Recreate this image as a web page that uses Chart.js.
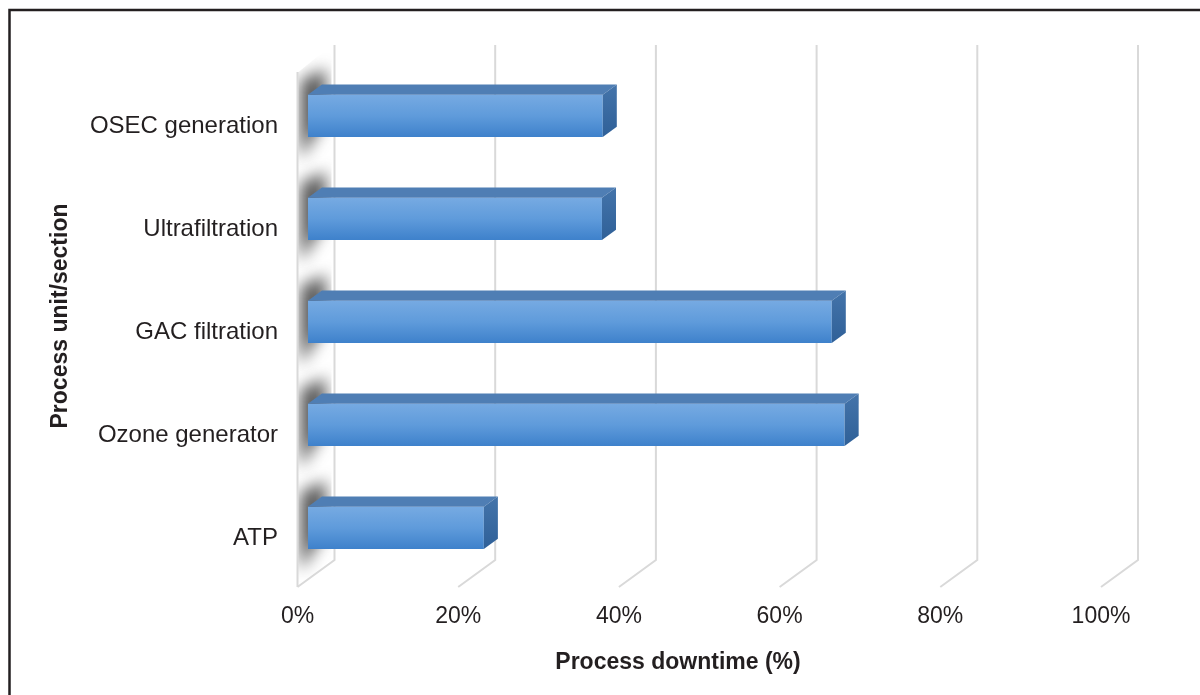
<!DOCTYPE html>
<html>
<head>
<meta charset="utf-8">
<title>Process downtime</title>
<script src="https://cdn.jsdelivr.net/npm/chart.js@4.4.1/dist/chart.umd.min.js"></script>
<style>
  html, body { margin: 0; padding: 0; background: #fff; }
  canvas { display: block; }
</style>
</head>
<body>
<canvas id="downtimeChart" width="1200" height="695"></canvas>
<script>
// data
const categories = ["OSEC generation", "Ultrafiltration", "GAC filtration", "Ozone generator", "ATP"];
const downtime = [0.367, 0.366, 0.652, 0.668, 0.219];
const tickValues = [0, 0.2, 0.4, 0.6, 0.8, 1.0];
const xTitle = "Process downtime (%)";
const yTitle = "Process unit/section";

const TEXT = "#231f20";
const FONT = "'Liberation Sans', Arial, sans-serif";

// depth of the box (front plane -> back wall) and where the bars sit inside it
const WALL_DX = 37, WALL_DY = -27;
const BAR_FRONT = 0.28, BAR_BACK = 0.66;
const BAR_PCT = 0.41;

function frontFill(c) {
  const ys = c.chart.scales.y;
  if (!ys || c.dataIndex === undefined) return "#5b97d8";
  const cy = ys.getPixelForValue(c.dataIndex);
  const half = (ys.getPixelForValue(1) - ys.getPixelForValue(0)) * BAR_PCT / 2;
  if (!isFinite(cy) || !isFinite(half) || half <= 0) return "#5b97d8";
  const g = c.chart.ctx.createLinearGradient(0, cy - half, 0, cy + half);
  g.addColorStop(0, "#76aae2");
  g.addColorStop(0.5, "#5f9bdb");
  g.addColorStop(1, "#3e81cb");
  return g;
}

const box3d = {
  id: "box3d",
  beforeDraw(chart) {
    const ctx = chart.ctx;
    ctx.save();
    ctx.strokeStyle = TEXT;
    ctx.lineWidth = 2.5;
    ctx.strokeRect(9.5, 10, 1400, 1000);
    ctx.restore();
  },
  beforeDatasetsDraw(chart) {
    const { ctx, chartArea: a, scales: { x } } = chart;
    const x0 = x.getPixelForValue(0);

    // back wall gridlines with their floor returns
    ctx.save();
    ctx.strokeStyle = "#d9d9d9";
    ctx.lineWidth = 2;
    ctx.beginPath();
    ctx.moveTo(x0, a.top);
    ctx.lineTo(x0, a.bottom);
    tickValues.forEach(v => {
      const fx = x.getPixelForValue(v);
      ctx.moveTo(fx + WALL_DX, a.top + WALL_DY);
      ctx.lineTo(fx + WALL_DX, a.bottom + WALL_DY);
      ctx.lineTo(fx, a.bottom);
    });
    ctx.stroke();

    // bar shadows on the side wall
    ctx.beginPath();
    ctx.moveTo(x0 + 1, a.top);
    ctx.lineTo(x0 + WALL_DX - 3, a.top + WALL_DY);
    ctx.lineTo(x0 + WALL_DX - 3, a.bottom + WALL_DY);
    ctx.lineTo(x0 + 1, a.bottom);
    ctx.closePath();
    ctx.clip();
    ctx.filter = "blur(8px)";
    ctx.fillStyle = "rgba(55,55,55,0.85)";
    const fy = BAR_FRONT * WALL_DY;
    chart.getDatasetMeta(0).data.forEach(el => {
      const p = el.getProps(["y", "height"], true);
      const T = p.y - p.height / 2 + fy, B = p.y + p.height / 2 + fy;
      ctx.beginPath();
      ctx.moveTo(x0 + 3, T - 14);
      ctx.lineTo(x0 + 28, T - 26);
      ctx.lineTo(x0 + 28, B - 18);
      ctx.lineTo(x0 + 3, B + 22);
      ctx.closePath();
      ctx.fill();
    });
    ctx.restore();

    // bars sit part way into the box
    ctx.save();
    ctx.translate(BAR_FRONT * WALL_DX, BAR_FRONT * WALL_DY);
  },
  afterDatasetsDraw(chart) {
    const ctx = chart.ctx;
    const dx = (BAR_BACK - BAR_FRONT) * WALL_DX;
    const dy = (BAR_BACK - BAR_FRONT) * WALL_DY;
    chart.getDatasetMeta(0).data.forEach(el => {
      const p = el.getProps(["x", "y", "base", "height"], true);
      const top = p.y - p.height / 2, bot = p.y + p.height / 2;
      // top face
      ctx.fillStyle = "#4f7eb4";
      ctx.beginPath();
      ctx.moveTo(p.base, top);
      ctx.lineTo(p.x, top);
      ctx.lineTo(p.x + dx, top + dy);
      ctx.lineTo(p.base + dx, top + dy);
      ctx.closePath();
      ctx.fill();
      // end face
      const g = ctx.createLinearGradient(0, top + dy, 0, bot);
      g.addColorStop(0, "#4474aa");
      g.addColorStop(1, "#2f6098");
      ctx.fillStyle = g;
      ctx.beginPath();
      ctx.moveTo(p.x, top);
      ctx.lineTo(p.x + dx, top + dy);
      ctx.lineTo(p.x + dx, bot + dy);
      ctx.lineTo(p.x, bot);
      ctx.closePath();
      ctx.fill();
    });
    ctx.restore();
  },
  afterDraw(chart) {
    const { ctx, chartArea: a } = chart;
    ctx.save();
    ctx.fillStyle = TEXT;
    ctx.font = "bold 23px " + FONT;
    ctx.textAlign = "center";
    ctx.textBaseline = "middle";
    ctx.fillText(xTitle, a.left + 380.5, 663);
    ctx.translate(61, a.top + 244);
    ctx.rotate(-Math.PI / 2);
    ctx.fillText(yTitle, 0, 0);
    ctx.restore();
  }
};

const chart = new Chart(document.getElementById("downtimeChart"), {
  type: "bar",
  data: {
    labels: categories,
    datasets: [{
      data: downtime,
      backgroundColor: frontFill,
      borderWidth: 0,
      barPercentage: BAR_PCT,
      categoryPercentage: 1
    }]
  },
  options: {
    indexAxis: "y",
    responsive: false,
    animation: false,
    devicePixelRatio: 1,
    layout: { padding: { left: 10, top: 72, right: 99, bottom: 0 } },
    plugins: { legend: { display: false }, tooltip: { enabled: false } },
    scales: {
      x: {
        min: 0,
        max: 1,
        grid: { display: false, drawTicks: false },
        border: { display: false },
        afterBuildTicks: s => { s.ticks = tickValues.map(v => ({ value: v })); },
        afterFit: s => { s.height = 108; },
        ticks: {
          padding: 16,
          color: TEXT,
          font: { family: FONT, size: 23 },
          callback: v => Math.round(v * 100) + "%"
        }
      },
      y: {
        grid: { display: false, drawTicks: false },
        border: { display: false },
        afterFit: s => { s.width = 287.5; },
        ticks: {
          padding: 19.5,
          labelOffset: 3,
          color: TEXT,
          font: { family: FONT, size: 24 }
        }
      }
    }
  },
  plugins: [box3d]
});
</script>
</body>
</html>
